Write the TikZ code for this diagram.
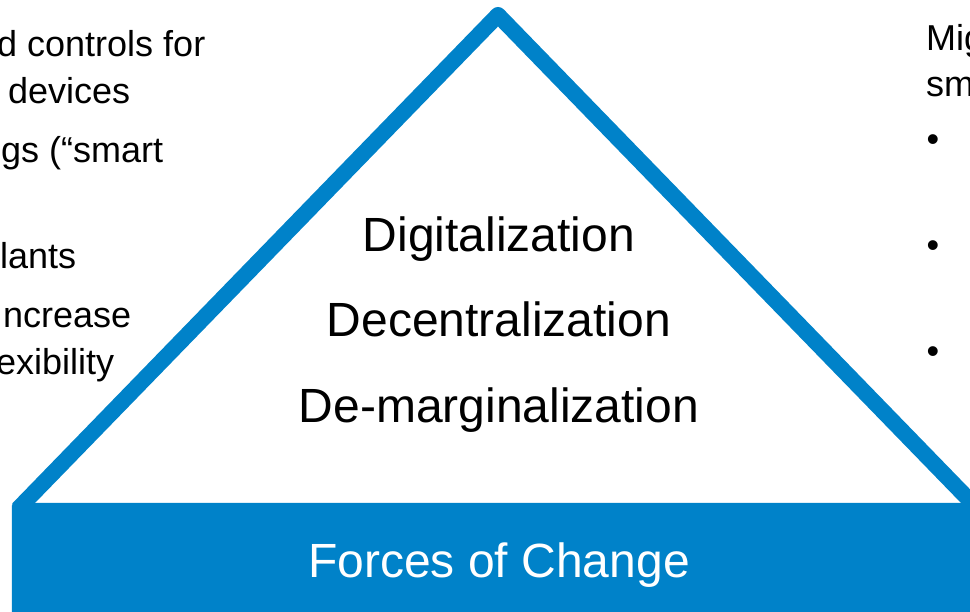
\documentclass[tikz,border=0pt]{standalone}
\usepackage{fontspec}
\setmainfont{Liberation Sans}
\definecolor{forceblue}{RGB}{0,130,201}

\begin{document}
\begin{tikzpicture}[x=1pt,y=-1pt,
      bigtext/.style={font=\fontsize{48}{58}\selectfont,inner sep=0pt,anchor=base},
      sidetext/.style={font=\fontsize{36}{43}\selectfont,inner sep=0pt,anchor=base west}]
         \useasboundingbox (0,0) rectangle (970,612) ;
         \clip (0,0) rectangle (970,612) ;
         % triangle and bar
         \draw[color=forceblue,line width=16pt,line join=round] (18,509) -- (498,15) -- (978,509) ;
         \draw[color=forceblue,fill=forceblue,rounded corners=3pt] (12,503) rectangle (990,640) ;
         \node[bigtext,text=white] (forces) at (499,577) {Forces of Change} ;
         % the three D's
         \node[bigtext] (digital) at (499,252) {Digitalization} ;
         \node[bigtext] (decentral) at (499,337) {Decentralization} ;
         \node[bigtext] (demarginal) at (499,423) {De-marginalization} ;
         % left text (cut by the edge)
         \node[sidetext] (left1) at (-3,57) {d controls for} ;
         \node[sidetext] (left2) at (8,104) {devices} ;
         \node[sidetext] (left3) at (1,163) {gs (“smart} ;
         \node[sidetext] (left4) at (0,269) {lants} ;
         \node[sidetext] (left5) at (3,328) {ncrease} ;
         \node[sidetext] (left6) at (-4,375) {exibility} ;
         % right text (cut by the edge)
         \node[sidetext] (right1) at (926,51) {Mig} ;
         \node[sidetext] (right2) at (926,97) {sm} ;
         \node[sidetext,anchor=center] (bullet1) at (933,143) {•} ;
         \node[sidetext,anchor=center] (bullet2) at (933,249) {•} ;
         \node[sidetext,anchor=center] (bullet3) at (933,355) {•} ;
\end{tikzpicture}
\end{document}
